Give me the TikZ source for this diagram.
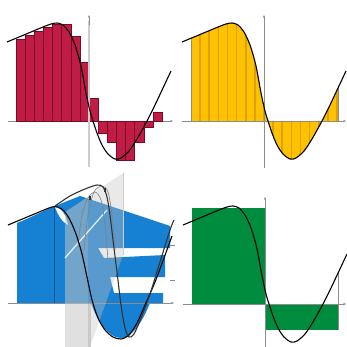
\documentclass[tikz,border=0pt]{standalone}
\usetikzlibrary{arrows.meta}
\definecolor{crim}{RGB}{192,28,70}
\definecolor{crimd}{RGB}{120,10,40}
\definecolor{yel}{RGB}{255,194,0}
\definecolor{yeld}{RGB}{222,160,0}
\definecolor{blu}{RGB}{22,128,210}
\definecolor{blud}{RGB}{12,85,150}
\definecolor{grn}{RGB}{0,140,62}
\definecolor{axg}{RGB}{140,140,140}
\definecolor{axl}{RGB}{205,205,205}
\newcommand{\fcurve}{plot[smooth] coordinates {(-82,79) (-70,84) (-58,89) (-46,94) (-38,97) (-32,98) (-26,96) (-20,89) (-14,76) (-8,55) (-3,28) (1,10) (4,0) (8,-12) (13,-24) (19,-33) (26,-38) (32,-37) (40,-30) (48,-18) (58,0) (66,16) (74,33) (82,50)}}
\tikzset{
  ax/.style={draw=axg,line width=0.6pt},
  arr/.style={-{Stealth[length=3pt,width=2.4pt]}},
  crv/.style={draw=black,line width=1.1pt},
  plane/.style={fill=gray!45,opacity=0.38}
}
\begin{document}
\begin{tikzpicture}[x=1pt,y=1pt]
\useasboundingbox (0,0) rectangle (346,-347);
\fill[white] (0,0) rectangle (346,-347);

% ---------- top-left: Riemann rectangles ----------
\begin{scope}[shift={(89,-121)}]
  \draw[ax,arr] (-81,0) -- (84,0);
  \foreach \h [count=\k from 0] in {82,86,90,94,97,97,85,59,23,-12,-21,-39,-39,-21,-6,9}
    \filldraw[fill=crim,draw=crimd,line width=0.5pt] ({-73+9.125*\k},0) rectangle ++(9.125,\h);
  \draw[axl,line width=2.5pt] (0,-46) -- (0,100);
  \draw[ax,arr] (0,96) -- (0,106);
  \draw[crv] \fcurve;
\end{scope}

% ---------- top-right: strips under the curve ----------
\begin{scope}[shift={(264,-121)}]
  \begin{scope}
    \clip (-73,-60) rectangle (74,110);
    \fill[yel] \fcurve -- (82,0) -- (-82,0) -- cycle;
    \clip \fcurve -- (82,0) -- (-82,0) -- cycle;
    \foreach \k in {0,...,16}
      \draw[yeld,line width=1.6pt] ({-73+9.125*\k},-60) -- ++(0,170);
  \end{scope}
  \draw[ax,arr] (0,-47) -- (0,106);
  \draw[ax,arr] (-82,0) -- (82,0);
  \draw[ax] (-73,0) -- (-73,80);
  \draw[ax] (74,0) -- (74,35);
  \draw[crv] \fcurve;
\end{scope}

% ---------- bottom-right: two rectangles ----------
\begin{scope}[shift={(265,-304)}]
  \fill[grn] (-73,0) rectangle (0,96);
  \fill[grn] (0,0) rectangle (73,-26);
  \draw[ax,arr] (0,-43) -- (0,107);
  \draw[ax,arr] (-82,0) -- (81,0);
  \draw[ax] (73,-26) -- (73,33);
  \draw[crv] \fcurve;
\end{scope}

% ---------- bottom-left: Lebesgue slices ----------
\begin{scope}[yscale=-1]
  \draw[axl,line width=3pt] (89,300) -- (89,347);
  \fill[blu] (17,303) -- (17,223) .. controls (30,218) and (45,210) .. (55,206)
     -- (80,196) -- (170,226) -- (170,248) -- (98,248) -- (104,258) -- (165,255)
     -- (165,277) -- (110,277) -- (114,293) -- (163,293) -- (163,303) -- cycle;
  \fill[blu] (91,303) .. controls (100,330) and (115,342) .. (127,337)
     .. controls (138,330) and (145,315) .. (150,303) -- cycle;
  \draw[ax,arr] (8,303) -- (174,303);
  \draw[blud,line width=0.6pt] (54,208) -- (54,303);
  \fill[white] (55,207) .. controls (62,208) and (66,215) .. (68,225)
     .. controls (62,222) and (58,215) .. (55,207);
  \fill[plane] (65,212) -- (123,173) -- (123,255) -- (90,347) -- (65,347) -- cycle;
  \fill[plane,opacity=0.25] (65,212) -- (88,198) -- (88,347) -- (65,347) -- cycle;
  \draw[axl,line width=0.7pt] (123,173) -- (123,255);
  \draw[white,line width=1.2pt,opacity=0.85] (65,258) -- (107,210);
  \draw[gray,line width=0.6pt] plot[smooth] coordinates {(78,245) (82,215) (88,198) (95,192) (101,200) (105,225) (108,260)};
  \draw[gray,line width=0.6pt] plot[smooth] coordinates {(84,250) (88,215) (94,192) (102,186) (108,192) (112,215) (115,250)};
  \draw[crv] plot[smooth] coordinates {(8,225) (20,220) (32,215) (44,210) (52,207) (58,207) (64,211) (70,220) (76,234) (82,254) (87,277) (92,300) (98,318) (105,330) (113,337) (121,339) (129,335) (137,323) (145,305) (155,282) (164,258) (172,236)};
  \draw[crv,draw=black!80] plot[smooth] coordinates {(55,206) (70,196) (85,189) (97,185) (103,187) (107,197) (110,215) (113,240) (117,272) (121,305) (125,328) (129,337) (134,334) (141,318) (150,294) (160,262) (170,230) (174,220)};
  \draw[gray!40!black,line width=1.2pt] (90,196) -- (90,200);
  \draw[gray!40!black,line width=1.2pt] (105,188) -- (105,192);
  \draw[ax] (170,245) -- (175,245);
  \draw[ax] (170,280) -- (175,280);
\end{scope}
\end{tikzpicture}
\end{document}
